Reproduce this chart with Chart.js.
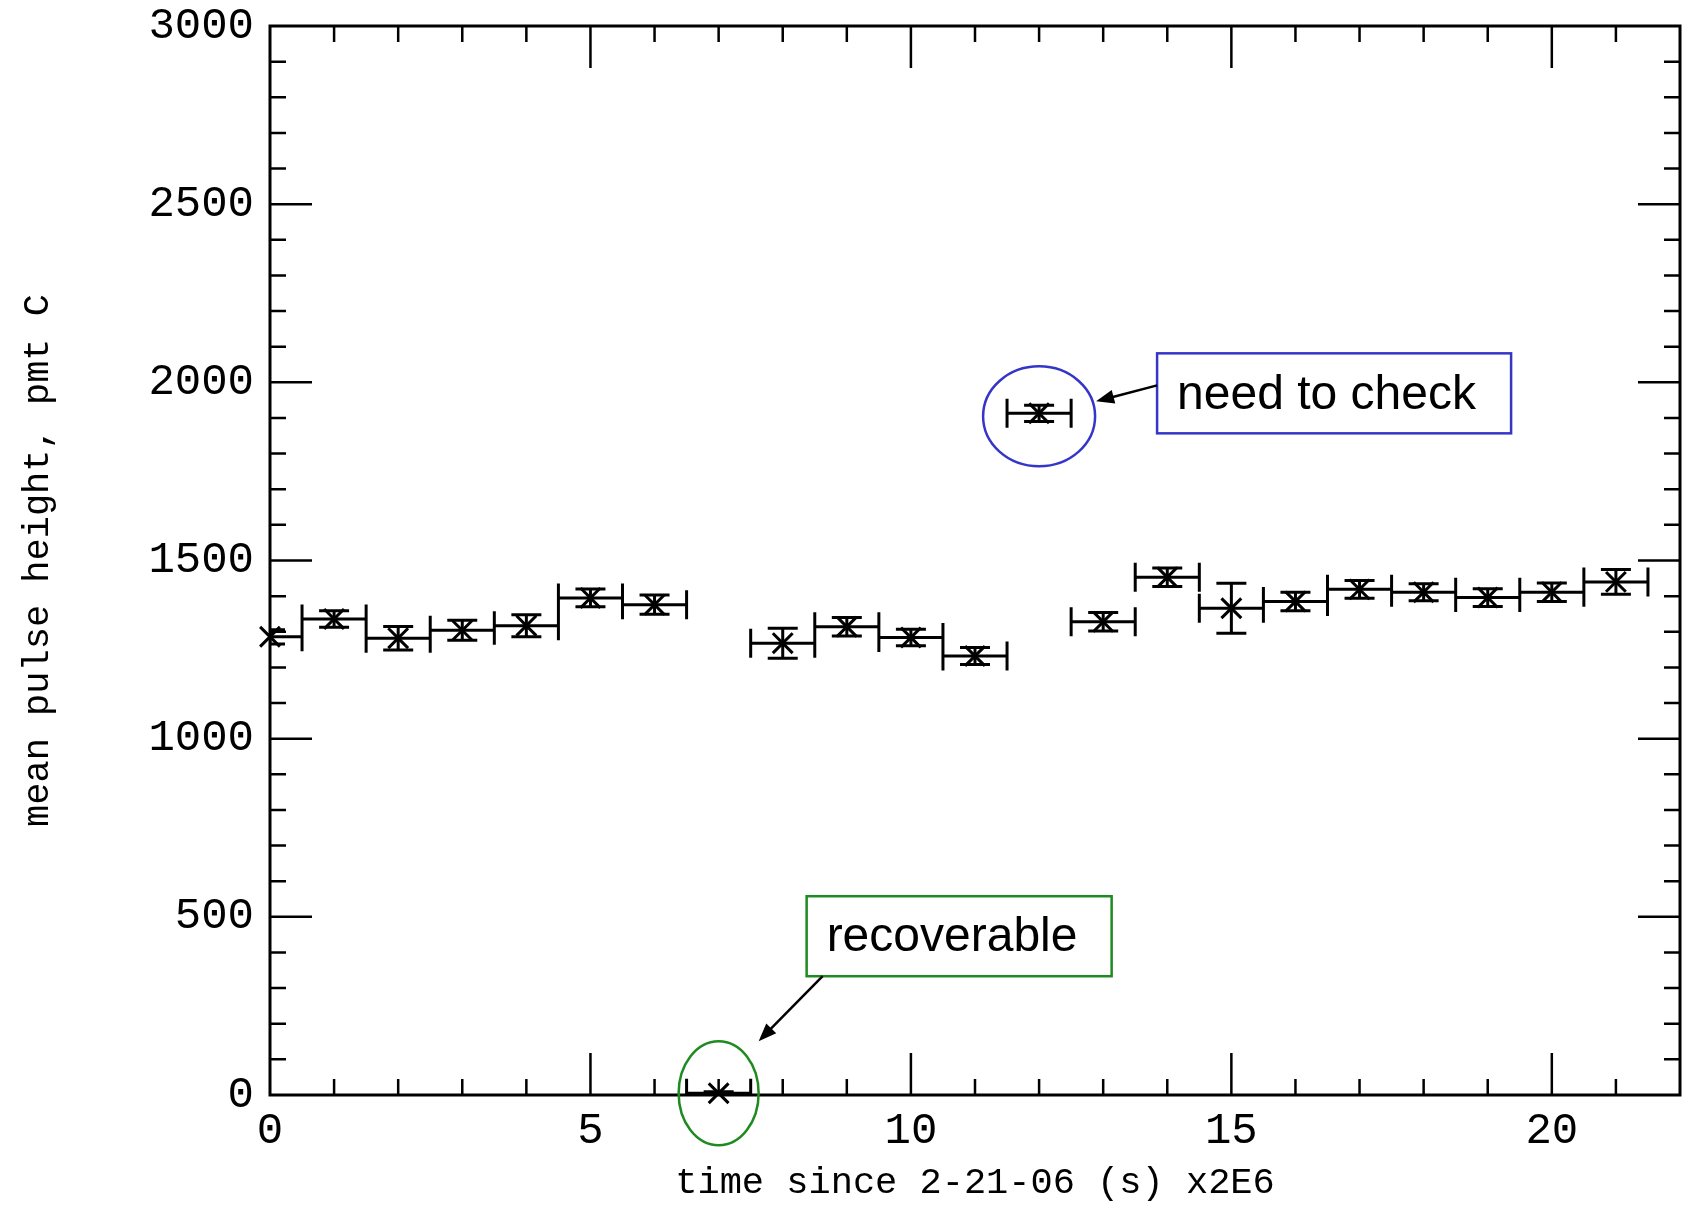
<!DOCTYPE html>
<html>
<head>
<meta charset="utf-8">
<script src="https://cdn.jsdelivr.net/npm/chart.js@4.4.0/dist/chart.umd.min.js"></script>
<style>
  html, body { margin: 0; padding: 0; background: #fff; }
  canvas { display: block; }
</style>
</head>
<body>
<canvas id="grafico" width="1682" height="1205"></canvas>
<script>
// tiempo desde 2-21-06 (s) x2E6, un punto por bin
const tiempos = [0, 1, 2, 3, 4, 5, 6, 7, 8, 9, 10, 11, 12, 13, 14, 15, 16, 17, 18, 19, 20, 21];
// altura media del pulso, pmt C
const alturas = [1286, 1336, 1282, 1304, 1317, 1395, 1376, 5, 1268, 1314, 1284, 1232, 1913, 1328, 1453, 1366, 1385, 1419, 1411, 1396, 1411, 1440];
// barras de error verticales
const erroresY = [20, 23, 33, 28, 31, 25, 27, 4, 42, 26, 23, 24, 23, 26, 26, 70, 26, 25, 24, 25, 26, 35];
// medio ancho del bin
const medioBin = 0.5;

const ticksX = [0, 5, 10, 15, 20];
const ticksY = [0, 500, 1000, 1500, 2000, 2500, 3000];

const FUENTE_EJES = "'Liberation Mono', 'DejaVu Sans Mono', monospace";
const FUENTE_NOTAS = "'Liberation Sans', Arial, sans-serif";

// fondo blanco
const fondo = {
  id: 'fondo',
  beforeDraw(chart) {
    const ctx = chart.ctx;
    ctx.save();
    ctx.fillStyle = '#fff';
    ctx.fillRect(0, 0, chart.width, chart.height);
    ctx.restore();
  }
};

// marco y marcas hacia adentro en los cuatro lados
const marco = {
  id: 'marco',
  afterDraw(chart) {
    const { ctx, chartArea: a, scales } = chart;
    const sx = scales.x, sy = scales.y;
    ctx.save();
    ctx.strokeStyle = '#000';
    ctx.lineWidth = 2.5;
    ctx.beginPath();
    for (let v = 1; v < 22; v++) {
      const largo = v % 5 === 0 ? 42 : 16;
      const px = sx.getPixelForValue(v);
      ctx.moveTo(px, a.bottom); ctx.lineTo(px, a.bottom - largo);
      ctx.moveTo(px, a.top); ctx.lineTo(px, a.top + largo);
    }
    for (let v = 100; v < 3000; v += 100) {
      const largo = v % 500 === 0 ? 42 : 16;
      const py = sy.getPixelForValue(v);
      ctx.moveTo(a.left, py); ctx.lineTo(a.left + largo, py);
      ctx.moveTo(a.right, py); ctx.lineTo(a.right - largo, py);
    }
    ctx.stroke();
    ctx.lineWidth = 3;
    ctx.strokeRect(a.left, a.top, a.right - a.left, a.bottom - a.top);
    ctx.restore();
  }
};

// barras de error en x (ancho del bin) y en y
const barrasError = {
  id: 'barrasError',
  beforeDatasetsDraw(chart) {
    const { ctx, chartArea: a, scales } = chart;
    const sx = scales.x, sy = scales.y;
    const tapa = 14.5;
    ctx.save();
    ctx.beginPath();
    ctx.rect(a.left, a.top, a.right - a.left, a.bottom - a.top);
    ctx.clip();
    ctx.strokeStyle = '#000';
    ctx.lineWidth = 3;
    ctx.beginPath();
    tiempos.forEach((t, i) => {
      const x0 = sx.getPixelForValue(t - medioBin);
      const x1 = sx.getPixelForValue(t + medioBin);
      const xc = sx.getPixelForValue(t);
      const yc = sy.getPixelForValue(alturas[i]);
      const yArr = sy.getPixelForValue(alturas[i] + erroresY[i]);
      const yAba = sy.getPixelForValue(alturas[i] - erroresY[i]);
      ctx.moveTo(x0, yc); ctx.lineTo(x1, yc);
      ctx.moveTo(x0, yc - tapa); ctx.lineTo(x0, yc + tapa);
      ctx.moveTo(x1, yc - tapa); ctx.lineTo(x1, yc + tapa);
      ctx.moveTo(xc, yArr); ctx.lineTo(xc, yAba);
      ctx.moveTo(xc - 15, yArr); ctx.lineTo(xc + 15, yArr);
      ctx.moveTo(xc - 15, yAba); ctx.lineTo(xc + 15, yAba);
    });
    ctx.stroke();
    ctx.restore();
  }
};

function flecha(ctx, x1, y1, x2, y2) {
  const ang = Math.atan2(y2 - y1, x2 - x1);
  const L = 18, W = 7;
  ctx.beginPath();
  ctx.moveTo(x1, y1);
  ctx.lineTo(x2 - Math.cos(ang) * L * 0.8, y2 - Math.sin(ang) * L * 0.8);
  ctx.stroke();
  ctx.beginPath();
  ctx.moveTo(x2, y2);
  ctx.lineTo(x2 - Math.cos(ang) * L - Math.sin(ang) * W, y2 - Math.sin(ang) * L + Math.cos(ang) * W);
  ctx.lineTo(x2 - Math.cos(ang) * L + Math.sin(ang) * W, y2 - Math.sin(ang) * L - Math.cos(ang) * W);
  ctx.closePath();
  ctx.fill();
}

// notas: elipses, cajas y flechas
const notas = {
  id: 'notas',
  afterDraw(chart) {
    const { ctx, scales } = chart;
    const sx = scales.x, sy = scales.y;
    ctx.save();
    ctx.lineWidth = 2.5;

    // punto a revisar (bin 12)
    const p = { x: sx.getPixelForValue(tiempos[12]), y: sy.getPixelForValue(alturas[12]) };
    ctx.strokeStyle = '#3535c8';
    ctx.beginPath();
    ctx.ellipse(p.x, p.y + 3, 56, 50, 0, 0, Math.PI * 2);
    ctx.stroke();
    const c1 = { x: p.x + 118, y: p.y - 60, w: 354, h: 80 };
    ctx.strokeRect(c1.x, c1.y, c1.w, c1.h);
    ctx.fillStyle = '#000';
    ctx.font = '48px ' + FUENTE_NOTAS;
    ctx.textBaseline = 'middle';
    ctx.textAlign = 'left';
    ctx.fillText('need to check', c1.x + 20, c1.y + 42);
    ctx.strokeStyle = '#000';
    flecha(ctx, c1.x, c1.y + 32, p.x + 57, p.y - 12);

    // punto recuperable (bin 7)
    const q = { x: sx.getPixelForValue(tiempos[7]), y: sy.getPixelForValue(alturas[7]) };
    ctx.strokeStyle = '#1f8a1f';
    ctx.beginPath();
    ctx.ellipse(q.x, q.y, 40, 52, 0, 0, Math.PI * 2);
    ctx.stroke();
    const c2 = { x: q.x + 88, y: q.y - 197, w: 305, h: 80 };
    ctx.strokeRect(c2.x, c2.y, c2.w, c2.h);
    ctx.fillStyle = '#000';
    ctx.fillText('recoverable', c2.x + 20, c2.y + 42);
    ctx.strokeStyle = '#000';
    flecha(ctx, c2.x + 16, c2.y + c2.h, q.x + 40, q.y - 52);
    ctx.restore();
  }
};

const ctx = document.getElementById('grafico').getContext('2d');
const chart = new Chart(ctx, {
  type: 'scatter',
  data: {
    datasets: [{
      label: 'mean pulse height',
      data: tiempos.map((t, i) => ({ x: t, y: alturas[i] })),
      pointStyle: 'crossRot',
      pointRadius: 14,
      pointBorderWidth: 3,
      borderColor: '#000',
      backgroundColor: '#000',
      showLine: false,
      clip: false
    }]
  },
  options: {
    responsive: false,
    animation: false,
    devicePixelRatio: 1,
    layout: { autoPadding: false, padding: { top: 26, right: 2, left: 0, bottom: 0 } },
    plugins: {
      legend: { display: false },
      tooltip: { enabled: false }
    },
    scales: {
      x: {
        type: 'linear',
        min: 0,
        max: 22,
        grid: { display: false, drawTicks: false },
        border: { display: false },
        afterBuildTicks: s => { s.ticks = ticksX.map(v => ({ value: v })); },
        afterFit: s => { s.height = 110; s.paddingLeft = 0; s.paddingRight = 0; },
        ticks: {
          color: '#000',
          padding: 10,
          maxRotation: 0,
          callback: v => String(v),
          font: { family: FUENTE_EJES, size: 44 }
        },
        title: {
          display: true,
          text: 'time since 2-21-06 (s) x2E6',
          color: '#000',
          padding: 0,
          font: { family: FUENTE_EJES, size: 37 }
        }
      },
      y: {
        type: 'linear',
        min: 0,
        max: 3000,
        grid: { display: false, drawTicks: false },
        border: { display: false },
        afterBuildTicks: s => { s.ticks = ticksY.map(v => ({ value: v })); },
        afterFit: s => { s.width = 270; s.paddingTop = 0; s.paddingBottom = 0; },
        ticks: {
          color: '#000',
          padding: 16,
          callback: v => String(v),
          font: { family: FUENTE_EJES, size: 44 }
        },
        title: {
          display: true,
          text: 'mean pulse height, pmt C',
          color: '#000',
          padding: 16,
          font: { family: FUENTE_EJES, size: 37 }
        }
      }
    }
  },
  plugins: [fondo, barrasError, marco, notas]
});
</script>
</body>
</html>
